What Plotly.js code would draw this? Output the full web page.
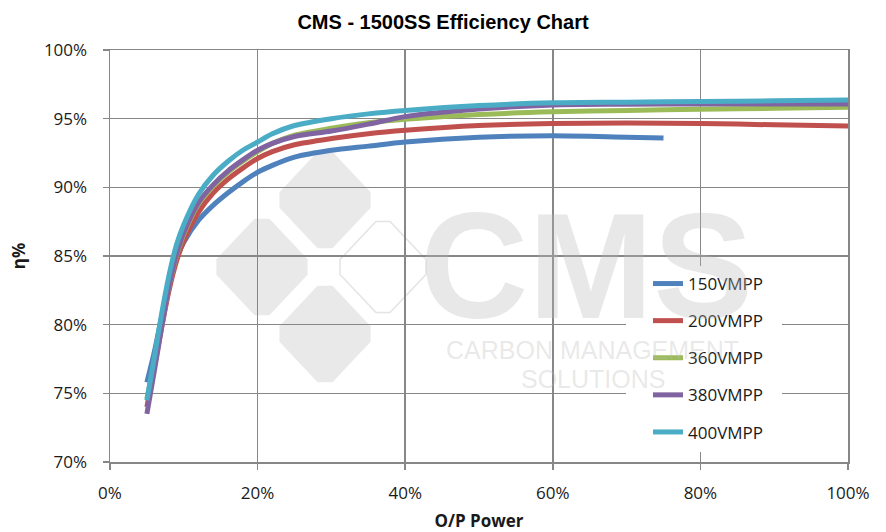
<!DOCTYPE html>
<html>
<head>
<meta charset="utf-8">
<script src="https://cdn.plot.ly/plotly-3.0.1.min.js"></script>
<style>html,body{margin:0;padding:0;background:#fff;}#chart{width:886px;height:532px;}</style>
</head>
<body>
<div id="chart"></div>
<script>
// ---- data (O/P power %, efficiency %) ----
const seriesNames = ["150VMPP", "200VMPP", "360VMPP", "380VMPP", "400VMPP"];
const xShort = [5, 6, 7, 8, 9, 10, 12, 14, 16, 18, 20, 22, 25, 30, 35, 40, 50, 60, 70, 75];
const xFull  = [5, 6, 7, 8, 9, 10, 12, 14, 16, 18, 20, 22, 25, 30, 35, 40, 50, 60, 70, 80, 90, 100];
const eff150 = [75.8, 78.0, 80.6, 83.0, 84.8, 86.0, 87.6, 88.7, 89.6, 90.4, 91.1, 91.6, 92.2, 92.7, 93.0, 93.3, 93.65, 93.75, 93.65, 93.6];
const eff200 = [74.0, 76.9, 79.8, 82.5, 84.6, 86.1, 88.2, 89.6, 90.6, 91.4, 92.1, 92.6, 93.1, 93.55, 93.9, 94.15, 94.5, 94.65, 94.68, 94.65, 94.55, 94.46];
const eff360 = [74.6, 77.2, 80.0, 82.8, 85.0, 86.6, 88.8, 90.1, 91.1, 91.9, 92.6, 93.2, 93.8, 94.3, 94.7, 94.95, 95.3, 95.5, 95.6, 95.68, 95.75, 95.83];
const eff380 = [73.5, 76.6, 79.8, 82.8, 85.1, 86.7, 88.9, 90.2, 91.2, 92.0, 92.7, 93.2, 93.7, 94.1, 94.6, 95.15, 95.7, 96.0, 96.05, 96.07, 96.07, 96.07];
const eff400 = [74.5, 77.6, 80.8, 83.6, 85.8, 87.3, 89.5, 90.9, 91.9, 92.7, 93.3, 93.9, 94.5, 95.0, 95.35, 95.6, 95.95, 96.15, 96.2, 96.25, 96.3, 96.36];
const xTickVals = [0, 20, 40, 60, 80, 100];
const xTickText = ["0%", "20%", "40%", "60%", "80%", "100%"];
const yTickVals = [70, 75, 80, 85, 90, 95, 100];
const yTickText = ["70%", "75%", "80%", "85%", "90%", "95%", "100%"];

const colors = ["#4F81BD", "#C0504D", "#9BBB59", "#8064A2", "#4BACC6"];
const xs = [xShort, xFull, xFull, xFull, xFull];
const ys = [eff150, eff200, eff360, eff380, eff400];

const traces = seriesNames.map((n, i) => ({
  type: "scatter", mode: "lines", name: n, legendgroup: "g" + i,
  x: xs[i], y: ys[i],
  line: {color: colors[i], width: 5, shape: "spline", smoothing: 0.8}
}));

// ---- watermark (decoration) ----
const L = 110, R = 848, T = 50, B = 462;
const px = v => (v - L) / (R - L);
const py = v => (B - v) / (B - T);
function diamond(cx, cy, a, b, t) {
  const pts = [
    [cx - a * t, cy - b * (1 - t)], [cx + a * t, cy - b * (1 - t)],
    [cx + a * (1 - t), cy - b * t], [cx + a * (1 - t), cy + b * t],
    [cx + a * t, cy + b * (1 - t)], [cx - a * t, cy + b * (1 - t)],
    [cx - a * (1 - t), cy + b * t], [cx - a * (1 - t), cy - b * t]
  ];
  return "M" + pts.map(p => px(p[0]).toFixed(4) + "," + py(p[1]).toFixed(4)).join("L") + "Z";
}
const wmFill = "#e9e9e9";
const wmText = "rgba(185,185,185,0.33)";
const shapes = [
  {type: "path", xref: "paper", yref: "paper", layer: "below", path: diamond(325, 200, 53, 56, 0.14), fillcolor: wmFill, line: {width: 0}},
  {type: "path", xref: "paper", yref: "paper", layer: "below", path: diamond(262, 267, 53, 56, 0.14), fillcolor: wmFill, line: {width: 0}},
  {type: "path", xref: "paper", yref: "paper", layer: "below", path: diamond(325, 334, 53, 56, 0.14), fillcolor: wmFill, line: {width: 0}},
  {type: "path", xref: "paper", yref: "paper", layer: "below", path: diamond(383, 267, 50, 53, 0.14), fillcolor: "rgba(0,0,0,0)", line: {width: 1.5, color: "#e4e4e4"}},
  // white panel behind the legend (hides gridlines there)
  {type: "rect", xref: "paper", yref: "paper", layer: "above", x0: px(626), x1: px(782), y0: py(266), y1: py(452), fillcolor: "#ffffff", line: {width: 0}}
];
const annotations = [
  {text: "<b>CMS</b>", xref: "paper", yref: "paper", x: px(586), y: py(266), xanchor: "center", yanchor: "middle", showarrow: false,
   font: {family: "Liberation Sans, Arial, sans-serif", size: 150, color: wmText}},
  {text: "CARBON MANAGEMENT", xref: "paper", yref: "paper", x: px(592), y: py(350), xanchor: "center", yanchor: "middle", showarrow: false,
   font: {family: "Liberation Sans Narrow, Liberation Sans, Arial, sans-serif", size: 25, color: wmText}},
  {text: "SOLUTIONS", xref: "paper", yref: "paper", x: px(593), y: py(379), xanchor: "center", yanchor: "middle", showarrow: false,
   font: {family: "Liberation Sans Narrow, Liberation Sans, Arial, sans-serif", size: 25, color: wmText}}
];

const gridColor = "#878787";
const tickFont = {family: "Open Sans, sans-serif", size: 17, color: "#1a1a1a"};
const layout = {
  width: 886, height: 532,
  margin: {l: L, r: 886 - R, t: T, b: 532 - B},
  paper_bgcolor: "#ffffff", plot_bgcolor: "#ffffff",
  showlegend: true,
  title: {text: "<b>CMS - 1500SS Efficiency Chart</b>", x: 0.5, xref: "container", xanchor: "center",
          y: 0.958, yref: "container", yanchor: "middle",
          font: {family: "Liberation Sans, Arial, sans-serif", size: 20, color: "#000"}},
  xaxis: {
    range: [0, 100], tickmode: "array", tickvals: xTickVals, ticktext: xTickText, showgrid: true, gridcolor: gridColor, gridwidth: 1.5,
    showline: true, linecolor: gridColor, linewidth: 1.5, mirror: true, zeroline: false,
    ticks: "outside", ticklen: 6, tickcolor: gridColor, tickwidth: 1.5, ticklabelstandoff: 9,
    tickfont: tickFont, automargin: false,
    title: {text: "<b>O/P Power</b>", standoff: 14, font: {family: "Open Sans, sans-serif", size: 17, color: "#1a1a1a"}}
  },
  yaxis: {
    range: [70, 100], tickmode: "array", tickvals: yTickVals, ticktext: yTickText, showgrid: true, gridcolor: gridColor, gridwidth: 1.5,
    showline: true, linecolor: gridColor, linewidth: 1.5, mirror: true, zeroline: false,
    ticks: "outside", ticklen: 6, tickcolor: gridColor, tickwidth: 1.5, ticklabelstandoff: 12,
    tickfont: tickFont, automargin: false,
    title: {text: "<b>η%</b>", standoff: 14, font: {family: "Open Sans, sans-serif", size: 17, color: "#1a1a1a"}}
  },
  legend: {
    x: px(648), y: py(266), xanchor: "left", yanchor: "top", xref: "paper", yref: "paper",
    bgcolor: "rgba(0,0,0,0)", borderwidth: 0, traceorder: "grouped", tracegroupgap: 12,
    font: {family: "Open Sans, sans-serif", size: 17, color: "#1a1a1a"}
  },
  shapes: shapes,
  annotations: annotations
};

Plotly.newPlot("chart", traces, layout, {displayModeBar: false, staticPlot: true});
</script>
</body>
</html>
